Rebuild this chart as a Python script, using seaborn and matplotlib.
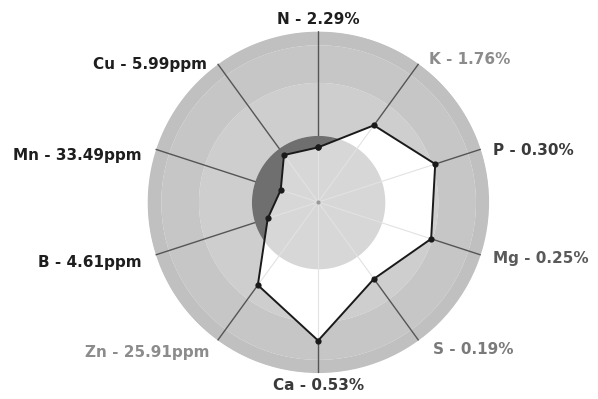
import numpy as np
import pandas as pd
import matplotlib
matplotlib.use('Agg')
import matplotlib.pyplot as plt
import seaborn as sns

# nutrients, clockwise from the top
nutrients = ['N', 'K', 'P', 'Mg', 'S', 'Ca', 'Zn', 'B', 'Mn', 'Cu']
readings = ['2.29%', '1.76%', '0.30%', '0.25%', '0.19%', '0.53%',
            '25.91ppm', '4.61ppm', '33.49ppm', '5.99ppm']
# position of each reading on the chart scale (0 = centre, 100 = rim)
scores = [32, 55.5, 72, 69.5, 55.5, 81, 60, 31, 23, 34]

# band edges of the background rings (chart scale)
band_edges = [0, 39, 70, 92, 100]
band_colors = ['#d7d7d7', '#cecece', '#c6c6c6', '#c0c0c0']
low_limit = 39  # inner circle, below it reads as deficient

label_colors = ['#1e1e1e', '#8c8c8c', '#3a3a3a', '#5a5a5a', '#7a7a7a',
                '#3a3a3a', '#8c8c8c', '#1e1e1e', '#1e1e1e', '#1e1e1e']

sns.set_style('white')
plt.rcParams['font.family'] = ['DejaVu Sans']

n = len(nutrients)
theta = np.arange(n) * 2 * np.pi / n
df = pd.DataFrame({'nutrient': nutrients, 'theta': theta, 'score': scores})
closed = pd.concat([df, df.iloc[[0]]], ignore_index=True)
closed.loc[n, 'theta'] = 2 * np.pi

fig = plt.figure(figsize=(5.98, 3.99), dpi=100)
ax = fig.add_axes([0.246, 0.065, 0.572, 0.857], projection='polar')
ax.set_theta_zero_location('N')
ax.set_theta_direction(-1)
ax.set_ylim(0, 100)
ax.axis('off')

ring = np.linspace(0, 2 * np.pi, 361)

# background rings
for r0, r1, c in zip(band_edges[:-1], band_edges[1:], band_colors):
    ax.fill_between(ring, r0, r1, color=c, lw=0, zorder=1)

# spokes
for t in theta:
    ax.plot([t, t], [0, 100], color='#555555', lw=1.0, zorder=2)

# deficient zone (inner circle outside the polygon)
ax.fill_between(ring, 0, low_limit, color='#6f6f6f', lw=0, zorder=3)

# polygon fill
poly = ax.fill(closed['theta'], closed['score'], color='white', lw=0, zorder=4)[0]

inner = ax.fill_between(ring, 0, low_limit, color=band_colors[0], lw=0, zorder=5)
inner.set_clip_path(poly)
for t in theta:
    sp, = ax.plot([t, t], [0, 100], color='#e2e2e2', lw=0.8, zorder=6)
    sp.set_clip_path(poly)

sns.lineplot(data=closed, x='theta', y='score', sort=False, estimator=None,
             ax=ax, color='#1a1a1a', lw=1.4, marker='o', markersize=4.5,
             markeredgewidth=0, zorder=7)
ax.plot([0], [0], 'o', color='#999999', markersize=2, zorder=8)
ax.set_xlabel('')
ax.set_ylabel('')

# label offsets from the spoke ends, pixels
offsets = [(0, 12), (10, 4), (12, -1), (12, -4), (14, -9),
           (0, -12), (-8, -12), (-14, -8), (-14, -6), (-11, -1)]
aligns = ['center', 'left', 'left', 'left', 'left',
          'center', 'right', 'right', 'right', 'right']

for i in range(n):
    ax.annotate(f'{nutrients[i]} - {readings[i]}', xy=(theta[i], 100),
                xytext=offsets[i], textcoords='offset pixels',
                ha=aligns[i], va='center', fontsize=11, fontweight='bold',
                color=label_colors[i], annotation_clip=False, zorder=9)

fig.savefig('out.png', dpi=100, facecolor='white')
